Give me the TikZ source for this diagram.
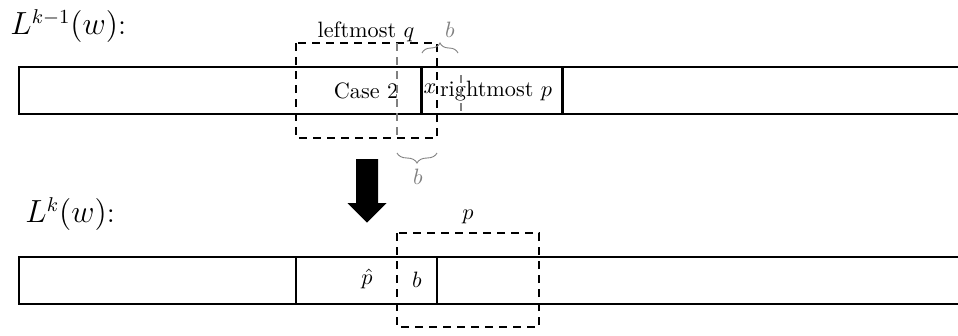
\documentclass[tikz,border=0pt]{standalone}
\usetikzlibrary{decorations.pathreplacing}
\begin{document}
\begin{tikzpicture}[x=0.45pt,y=-0.45pt,
  strip/.style={line width=1.1pt},
  box/.style={line width=1.1pt,dashed,dash pattern=on 3.6pt off 2.7pt},
  gbox/.style={line width=0.8pt,gray,dash pattern=on 3.6pt off 2.7pt},
  gbrace/.style={gray,thin,decorate,decoration={brace,amplitude=4.5pt}},
  lbl/.style={inner sep=0pt},
  glbl/.style={inner sep=0pt,text=gray},
  biglbl/.style={anchor=west,inner sep=0pt,font=\fontsize{13.3}{16}\selectfont}]
\useasboundingbox (0,0) rectangle (958,335);
% top strip
\coordinate (t1) at (19,67); \coordinate (t2) at (19,114);
\coordinate (t3) at (958,67); \coordinate (t4) at (958,114);
\draw[strip] (t3) -- (t1) -- (t2) -- (t4);
\draw[strip] (421.5,67) -- (421.5,114);
\draw[strip] (562.5,67) -- (562.5,114);
\node[biglbl] (L1) at (10,26) {$L^{k-1}(w)$:};
\node[lbl] (case) at (366,91) {Case 2};
\node[lbl] (x) at (430,89) {$x$};
\node[lbl] (rp) at (496,91) {rightmost $p$};
\node[lbl] (lq) at (366,32) {leftmost $q$};
\draw[box] (296,43) rectangle (437,138);
\draw[gbox] (397,43) -- (397,138);
\draw[gbox] (461,75) -- (461,114);
\coordinate (b1a) at (422,53); \coordinate (b1b) at (458,53);
\draw[gbrace] (b1a) -- (b1b);
\node[glbl] (b1) at (450,30) {$b$};
\coordinate (b2a) at (437,153); \coordinate (b2b) at (397,153);
\draw[gbrace] (b2a) -- (b2b);
\node[glbl] (b2) at (418,177) {$b$};
% arrow
\fill[black] (356,159) -- (378,159) -- (378,203) -- (386.5,203) -- (367,222.5)
  -- (347.5,203) -- (356,203) -- cycle;
% bottom strip
\node[biglbl] (L2) at (25,214) {$L^{k}(w)$:};
\coordinate (s1) at (19,257); \coordinate (s2) at (19,304);
\coordinate (s3) at (958,257); \coordinate (s4) at (958,304);
\draw[strip] (s3) -- (s1) -- (s2) -- (s4);
\draw[strip] (296,257) -- (296,304);
\draw[strip] (437,257) -- (437,304);
\draw[box] (397,233) rectangle (539,327);
\node[lbl] (p) at (468,217) {$p$};
\node[lbl] (ph) at (367,279) {$\hat{p}$};
\node[lbl] (bb) at (417,280) {$b$};
\end{tikzpicture}
\end{document}
